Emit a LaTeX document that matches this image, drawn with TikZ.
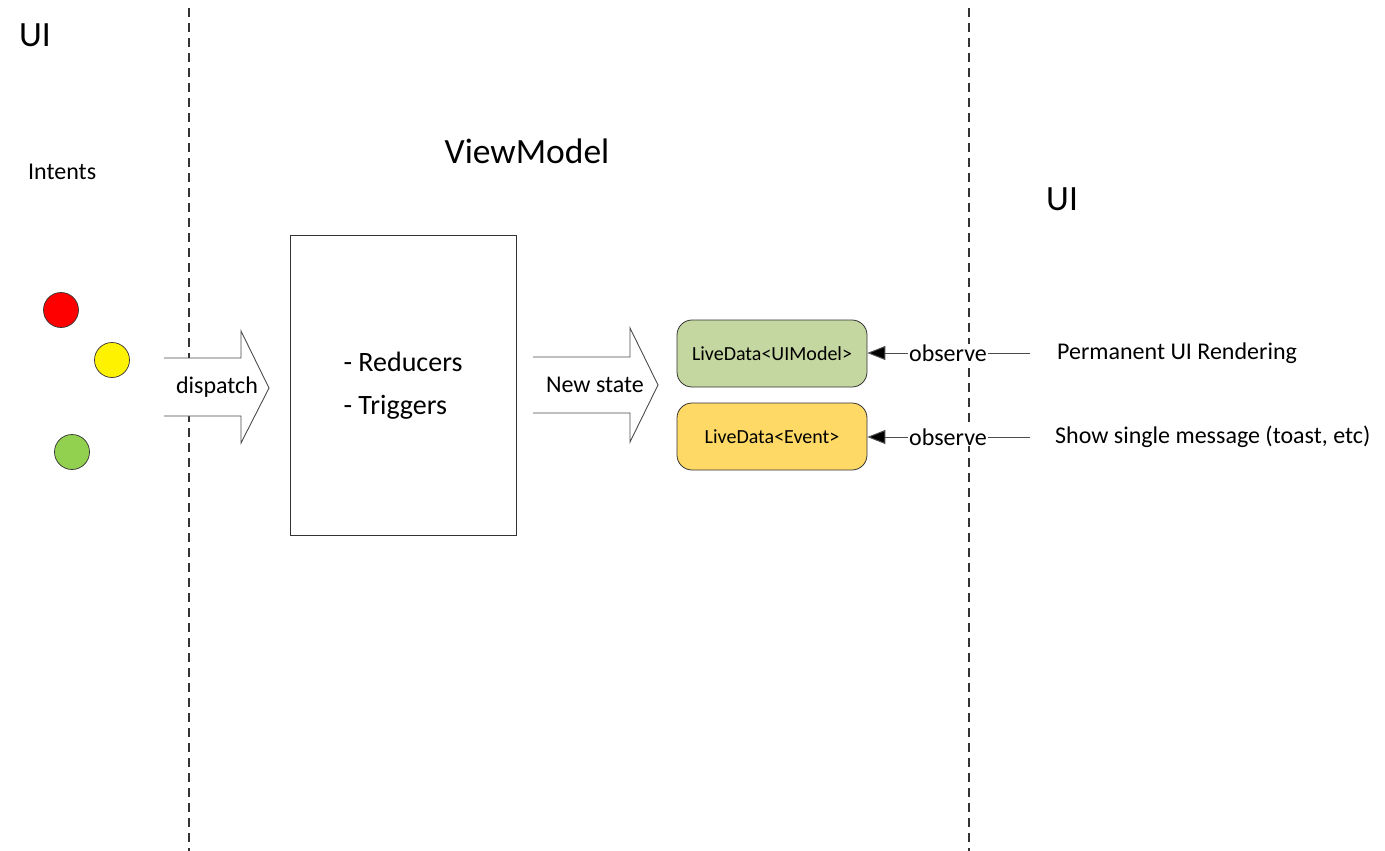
\documentclass[tikz,border=0pt]{standalone}
\usepackage{fontspec}
\setmainfont{Carlito}
\usetikzlibrary{arrows.meta}
\begin{document}
\begin{tikzpicture}[x=1pt,y=-1pt,
  sep/.style={draw=black!80,line width=1.2pt,dash pattern=on 9pt off 6pt},
  dot/.style={circle,draw=black!80,line width=0.7pt,minimum size=35pt,inner sep=0pt},
  bigarrow/.style={draw=black!70,line width=0.9pt,line join=miter},
  ld/.style={draw=black!80,line width=0.8pt,rounded corners=15pt,minimum width=190pt,minimum height=67pt,font=\fontsize{20}{24}\selectfont},
  obs/.style={draw=black!70,line width=1pt,-{Triangle[length=18pt,width=14pt,fill=black]}},
  lbl/.style={font=\fontsize{24}{29}\selectfont,inner sep=1pt},
  title/.style={font=\fontsize{35.5}{42}\selectfont,inner sep=0pt}]
\useasboundingbox (0,0) rectangle (1385,851);
\fill[white] (0,0) rectangle (1385,851);
% separators
\coordinate (s1t) at (189,8); \coordinate (s1b) at (189,851);
\coordinate (s2t) at (969,8); \coordinate (s2b) at (969,851);
\draw[sep] (s1t) -- (s1b);
\draw[sep] (s2t) -- (s2b);
% titles
\node[title,anchor=west] (ui1) at (19,35) {UI};
\node[lbl,anchor=west] (intents) at (27,172) {Intents};
\node[title] (vm) at (527,151) {ViewModel};
\node[title,anchor=west] (ui2) at (1046,199) {UI};
% intents dots
\node[dot,fill=red] (red) at (61,310) {};
\node[dot,fill=yellow] (yel) at (112,360) {};
\node[dot,fill={rgb,255:red,146;green,208;blue,80}] (grn) at (72,452) {};
% dispatch arrow
\fill[white] (164,358) -- (241,358) -- (241,331) -- (269,388) -- (241,443) -- (241,416) -- (164,416) -- cycle;
\draw[bigarrow] (164,358) -- (241,358) -- (241,331) -- (269,388) -- (241,443) -- (241,416) -- (164,416);
\node[lbl] (disp) at (217,387) {dispatch};
% viewmodel box
\node[draw=black!80,line width=0.8pt,minimum width=226pt,minimum height=300pt,inner sep=0pt] (vmbox) at (403,385) {};
\node[lbl,font=\fontsize{28}{43}\selectfont,align=left] (rt) at (403,386) {- Reducers\\- Triggers};
% new state arrow
\fill[white] (533,357) -- (630,357) -- (630,328) -- (658,385) -- (630,442) -- (630,413) -- (533,413) -- cycle;
\draw[bigarrow] (533,357) -- (630,357) -- (630,328) -- (658,385) -- (630,442) -- (630,413) -- (533,413);
\node[lbl] (ns) at (595,385) {New state};
% livedata boxes
\node[ld,fill={rgb,255:red,196;green,215;blue,160}] (ldui) at (772,353.5) {LiveData<UIModel>};
\node[ld,fill={rgb,255:red,255;green,217;blue,102}] (ldev) at (772,436.5) {LiveData<Event>};
% observers
\coordinate (o1) at (1030,353);
\coordinate (o2) at (1030,437);
\draw[obs] (o1) -- (ldui.east |- o1);
\draw[obs] (o2) -- (ldev.east |- o2);
\node[lbl,fill=white,inner sep=1pt] (obs1) at (948,353) {observe};
\node[lbl,fill=white,inner sep=1pt] (obs2) at (948,437) {observe};
\node[lbl,anchor=west] (perm) at (1056,353) {Permanent UI Rendering};
\node[lbl,anchor=west] (show) at (1054,437) {Show single message (toast, etc)};
\end{tikzpicture}
\end{document}
